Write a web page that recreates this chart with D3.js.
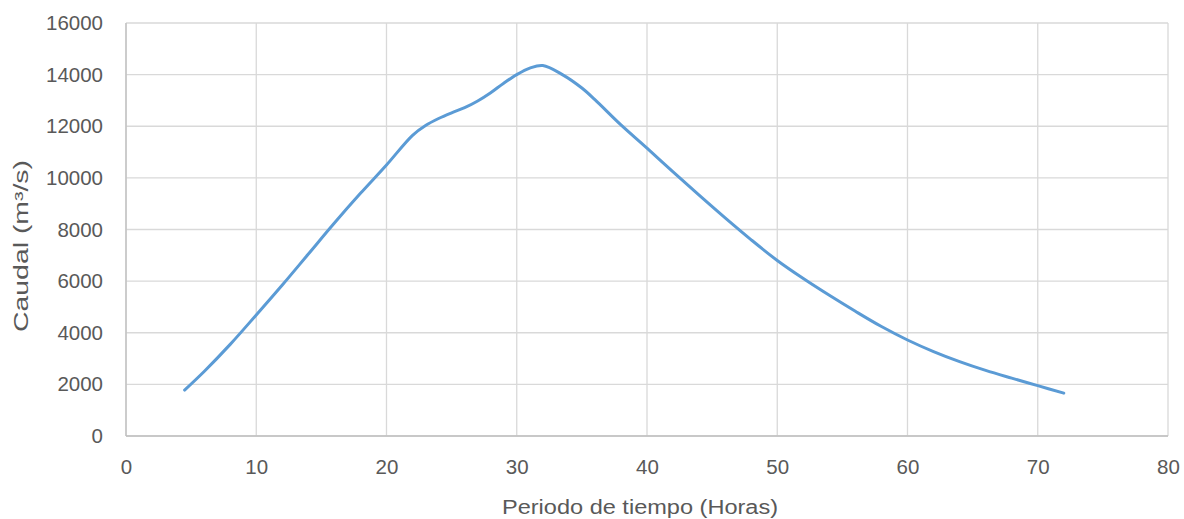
<!DOCTYPE html>
<html><head><meta charset="utf-8">
<script src="https://cdn.jsdelivr.net/npm/d3@7"></script>
<style>body{margin:0;background:#fff}</style>
</head><body>
<svg id="c" width="1184" height="519"></svg>
<script>
const hours = [4.5,6,8,10,12,14,16,18,20,22,23,24,25,26,27,28,29,30,31,32,33.5,35,36,38,40,42,44,46,48,50,52,54,56,58,60,62,64,66,68,70,72];
const caudal = [1780,2500,3550,4690,5850,7050,8250,9400,10500,11650,12030,12300,12520,12720,12980,13300,13670,14000,14250,14350,14000,13480,13030,12050,11150,10230,9330,8450,7600,6800,6100,5450,4830,4240,3720,3270,2880,2540,2240,1950,1660];
const xTicks = [0,10,20,30,40,50,60,70,80];
const yTicks = [0,2000,4000,6000,8000,10000,12000,14000,16000];

const svg = d3.select("#c");
const m = {l:126, r:1168, t:23, b:436};
const x = d3.scaleLinear().domain([0,80]).range([m.l,m.r]);
const y = d3.scaleLinear().domain([0,16000]).range([m.b,m.t]);

const g = svg.append("g");
g.selectAll(".hg").data(yTicks).join("line")
  .attr("x1",m.l).attr("x2",m.r).attr("y1",d=>y(d)).attr("y2",d=>y(d))
  .attr("stroke","#d9d9d9").attr("stroke-width",1.3);
g.selectAll(".vg").data(xTicks).join("line")
  .attr("y1",m.t).attr("y2",m.b).attr("x1",d=>x(d)).attr("x2",d=>x(d))
  .attr("stroke","#d9d9d9").attr("stroke-width",1.3);
g.append("line").attr("x1",m.l).attr("x2",m.r).attr("y1",m.b).attr("y2",m.b).attr("stroke","#bfbfbf").attr("stroke-width",1.3);
g.append("line").attr("x1",m.l).attr("x2",m.l).attr("y1",m.t).attr("y2",m.b).attr("stroke","#bfbfbf").attr("stroke-width",1.3);

const font = "'Liberation Sans', Arial, sans-serif";
const xa = svg.append("g").attr("transform",`translate(0,${m.b})`)
  .call(d3.axisBottom(x).tickValues(xTicks).tickSize(0).tickPadding(23).tickFormat(d3.format("d")));
const ya = svg.append("g").attr("transform",`translate(${m.l},0)`)
  .call(d3.axisLeft(y).tickValues(yTicks).tickSize(0).tickPadding(23).tickFormat(d3.format("d")));
[xa,ya].forEach(a=>{
  a.select(".domain").remove();
  a.selectAll("text").attr("fill","#595959").style("font-family",font).style("font-size","20.5px");
});

const line = d3.line().x((d,i)=>x(hours[i])).y(d=>y(d)).curve(d3.curveCatmullRom.alpha(0.5));
svg.append("path").datum(caudal).attr("d",line).attr("fill","none")
  .attr("stroke","#5b9bd5").attr("stroke-width",3).attr("stroke-linecap","round");

svg.append("text").attr("x",640).attr("y",514).attr("text-anchor","middle")
  .attr("textLength",276).attr("lengthAdjust","spacingAndGlyphs")
  .attr("fill","#595959").style("font-family",font).style("font-size","19.5px").text("Periodo de tiempo (Horas)");
svg.append("text").attr("transform",`translate(28,246) rotate(-90)`).attr("text-anchor","middle")
  .attr("textLength",172).attr("lengthAdjust","spacingAndGlyphs")
  .attr("fill","#595959").style("font-family",font).style("font-size","19.5px").text("Caudal (m³/s)");
</script>
</body></html>
